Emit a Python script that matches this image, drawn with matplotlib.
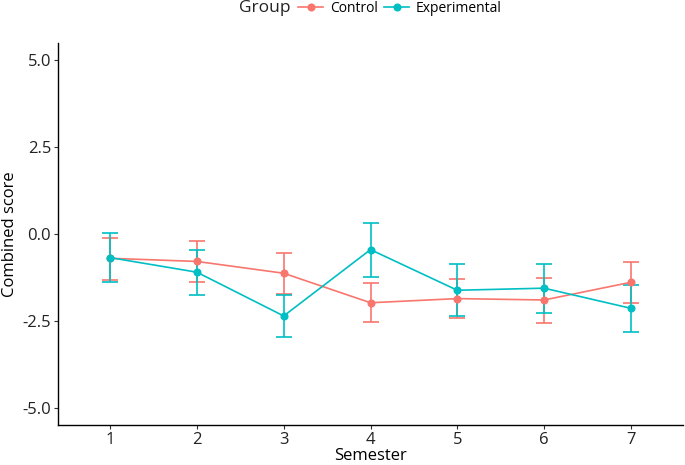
import matplotlib
matplotlib.use("Agg")
import matplotlib.pyplot as plt
from matplotlib.lines import Line2D

plt.rcParams['font.family'] = ['Open Sans', 'DejaVu Sans']

semesters = [1, 2, 3, 4, 5, 6, 7]
control_mean = [-0.70, -0.79, -1.13, -1.98, -1.86, -1.90, -1.39]
control_lo = [-1.33, -1.37, -1.73, -2.53, -2.43, -2.55, -1.99]
control_hi = [-0.11, -0.19, -0.55, -1.42, -1.30, -1.27, -0.80]
exp_mean = [-0.68, -1.10, -2.36, -0.45, -1.62, -1.56, -2.14]
exp_lo = [-1.37, -1.75, -2.97, -1.24, -2.37, -2.28, -2.82]
exp_hi = [0.04, -0.45, -1.76, 0.33, -0.87, -0.86, -1.46]
yticks = [-5.0, -2.5, 0.0, 2.5, 5.0]

c_col = '#F8766D'
e_col = '#00BFC4'

fig = plt.figure(figsize=(6.85, 4.65), dpi=100)
ax = fig.add_axes([58/685, 1-425/465, (683-58)/685, (425-43)/465])

for mean, lo, hi, col in [(control_mean, control_lo, control_hi, c_col),
                          (exp_mean, exp_lo, exp_hi, e_col)]:
    yerr = [[m - l for m, l in zip(mean, lo)], [h - m for m, h in zip(mean, hi)]]
    ax.errorbar(semesters, mean, yerr=yerr, color=col, lw=1.2, marker='o', ms=4.8,
                capsize=6, capthick=1.2, elinewidth=1.2)

ax.set_xlim(0.4, 7.6)
ax.set_ylim(-5.5, 5.5)
ax.set_xticks(semesters)
ax.set_yticks(yticks)
ax.set_yticklabels([f"{v:.1f}" for v in yticks])
for s in ['top', 'right']:
    ax.spines[s].set_visible(False)
for s in ['left', 'bottom']:
    ax.spines[s].set_linewidth(1.0)
    ax.spines[s].set_color('black')
ax.tick_params(axis='both', labelsize=12, length=3, width=0.8, colors='#333333', pad=2)
ax.tick_params(axis='both', labelcolor='#222222')
ax.set_xlabel('Semester', fontsize=12, labelpad=0)
ax.set_ylabel('Combined score', fontsize=12, labelpad=3)

handles = [Line2D([0], [0], color=c_col, marker='o', lw=1.2, ms=4.8),
           Line2D([0], [0], color=e_col, marker='o', lw=1.2, ms=4.8)]
leg = fig.legend(handles, ['Control', 'Experimental'],
                 loc='center', bbox_to_anchor=(400/685, 1-8/465), ncol=2, frameon=False,
                 fontsize=10, handlelength=1.8, columnspacing=0.5,
                 handletextpad=0.45, borderpad=0, borderaxespad=0)
fig.text(291/685, 1-8/465, 'Group', fontsize=12.5, ha='right', va='center', color='#222222')

fig.savefig('out.png', dpi=100)
